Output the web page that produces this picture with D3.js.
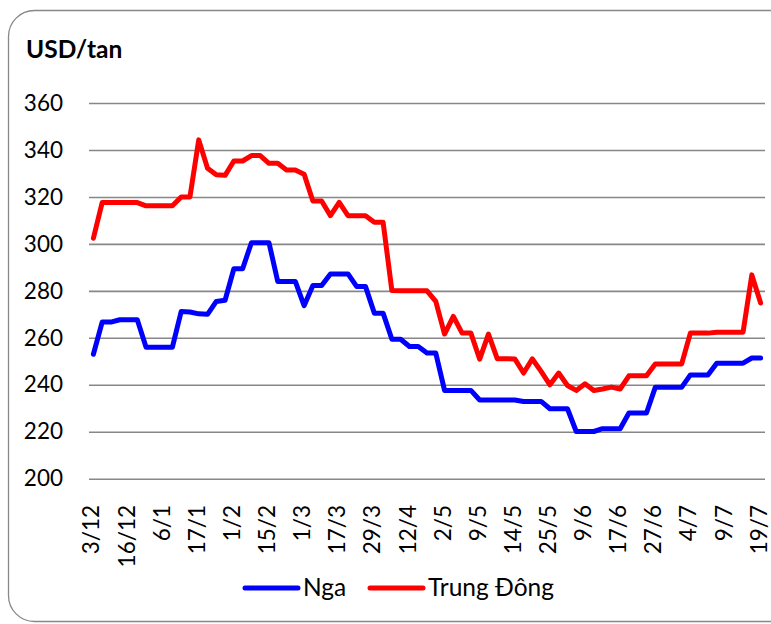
<!DOCTYPE html>
<html>
<head>
<meta charset="utf-8">
<script src="https://cdn.jsdelivr.net/npm/d3@7"></script>
<style>
  body { margin: 0; background: #fff; }
  text { font-family: Lato, "Open Sans", sans-serif; fill: #000; }
</style>
</head>
<body>
<div id="chart"></div>
<script>
// Data (USD/tan)
var nga = [253, 266.7, 266.7, 267.7, 267.7, 267.7, 256, 256, 256, 256,
  271.2, 271, 270.2, 270, 275.5, 276, 289.4, 289.4, 300.5, 300.5,
  300.5, 284, 284, 284, 273.7, 282.3, 282.3, 287.2, 287.2, 287.2,
  281.8, 281.8, 270.5, 270.5, 259.4, 259.4, 256.3, 256.3, 253.5, 253.5,
  237.6, 237.6, 237.6, 237.6, 233.5, 233.5, 233.5, 233.5, 233.5, 232.9,
  232.9, 232.9, 229.8, 229.8, 229.8, 220.1, 220.1, 220.1, 221.3, 221.3,
  221.3, 228, 228, 228, 238.9, 238.9, 238.9, 238.9, 244.2, 244.2,
  244.2, 249.2, 249.2, 249.2, 249.2, 251.4, 251.4];

var trungDong = [302.4, 317.6, 317.6, 317.6, 317.6, 317.6, 316.2, 316.2, 316.2, 316.2,
  320, 320, 344.3, 332.2, 329.4, 329.2, 335.3, 335.3, 337.6, 337.6,
  334.3, 334.3, 331.5, 331.5, 329.7, 318.3, 318.3, 312, 317.7, 312,
  312, 312, 309.2, 309.2, 280.1, 280, 280, 280, 280, 275.5,
  261.6, 269.1, 262, 262, 250.9, 261.6, 251.1, 251.1, 251, 245,
  251, 245.7, 240, 245, 239.7, 237.6, 240.4, 237.6, 238.2, 239,
  238.2, 243.8, 243.8, 243.8, 248.8, 248.8, 248.8, 248.8, 262, 262,
  262, 262.4, 262.4, 262.4, 262.4, 286.8, 274.8];

// one label for every 4th week
var tickLabels = ["3/12", "16/12", "6/1", "17/1", "1/2", "15/2", "1/3", "17/3", "29/3", "12/4",
  "2/5", "9/5", "14/5", "25/5", "9/6", "17/6", "27/6", "4/7", "9/7", "19/7"];
var tickStep = 4;

var yTicks = [200, 220, 240, 260, 280, 300, 320, 340, 360];

var seriesNames = ["Nga", "Trung Đông"];
var seriesColors = ["#0000ff", "#ff0000"];

// Set up Chart
var svgWidth = 771;
var svgHeight = 624;

var margin = { top: 103, right: 6, bottom: 145, left: 89 };
var width = svgWidth - margin.left - margin.right;
var height = 478.7 - margin.top;

var svg = d3.select("#chart")
  .append("svg")
  .attr("width", svgWidth)
  .attr("height", svgHeight);

// rounded frame, right side runs off the picture
svg.append("rect")
  .attr("x", 8.5)
  .attr("y", 10.5)
  .attr("width", 800)
  .attr("height", 611)
  .attr("rx", 26)
  .attr("fill", "#fff")
  .attr("stroke", "#888")
  .attr("stroke-width", 1.3);

var chartGroup = svg.append("g")
  .attr("transform", `translate(${margin.left}, ${margin.top})`);

// Scales
var xScale = d3.scaleBand()
  .domain(nga.map((d, i) => i))
  .range([0, width]);

var yScale = d3.scaleLinear()
  .domain([200, 360])
  .range([height, 0]);

var xPos = i => xScale(i) + xScale.bandwidth() / 2;

// Gridlines + y labels
var leftAxis = d3.axisLeft(yScale)
  .tickValues(yTicks)
  .tickSize(-width)
  .tickPadding(26);

var yAxisGroup = chartGroup.append("g").call(leftAxis);
yAxisGroup.select(".domain").remove();
yAxisGroup.selectAll(".tick line")
  .attr("stroke", "#878787")
  .attr("stroke-width", 1.6);
yAxisGroup.selectAll(".tick text")
  .attr("font-size", "22.5px")
  .attr("font-family", "Lato")
  .attr("fill", "#000");

// x labels, rotated
var bottomAxis = d3.axisBottom(xScale)
  .tickValues(tickLabels.map((d, k) => k * tickStep))
  .tickFormat(i => tickLabels[i / tickStep])
  .tickSize(0);

var xAxisGroup = chartGroup.append("g")
  .attr("transform", `translate(0, ${505 - margin.top})`)
  .call(bottomAxis);
xAxisGroup.select(".domain").remove();
xAxisGroup.selectAll(".tick text")
  .attr("transform", "rotate(-90)")
  .attr("x", 0)
  .attr("y", 0)
  .attr("dy", "0.27em")
  .attr("text-anchor", "end")
  .attr("font-size", "22.5px")
  .attr("font-family", "Lato")
  .attr("fill", "#000");

// Lines
var line = d3.line()
  .x((d, i) => xPos(i))
  .y(d => yScale(d));

[nga, trungDong].forEach(function(series, k) {
  chartGroup.append("path")
    .datum(series)
    .attr("fill", "none")
    .attr("stroke", seriesColors[k])
    .attr("stroke-width", 5)
    .attr("stroke-linejoin", "round")
    .attr("stroke-linecap", "round")
    .attr("d", line);
});

// Unit label
svg.append("text")
  .attr("x", 26)
  .attr("y", 58)
  .attr("font-size", "24.5px")
  .attr("font-weight", "bold")
  .text("USD/tan");

// Legend
var legendX = [245, 370];
var legend = svg.append("g");
seriesNames.forEach(function(name, k) {
  legend.append("line")
    .attr("x1", legendX[k])
    .attr("x2", legendX[k] + 53)
    .attr("y1", 588)
    .attr("y2", 588)
    .attr("stroke", seriesColors[k])
    .attr("stroke-width", 5)
    .attr("stroke-linecap", "round");
  legend.append("text")
    .attr("x", legendX[k] + 58)
    .attr("y", 596)
    .attr("font-size", "24.5px")
    .text(name);
});
</script>
</body>
</html>
